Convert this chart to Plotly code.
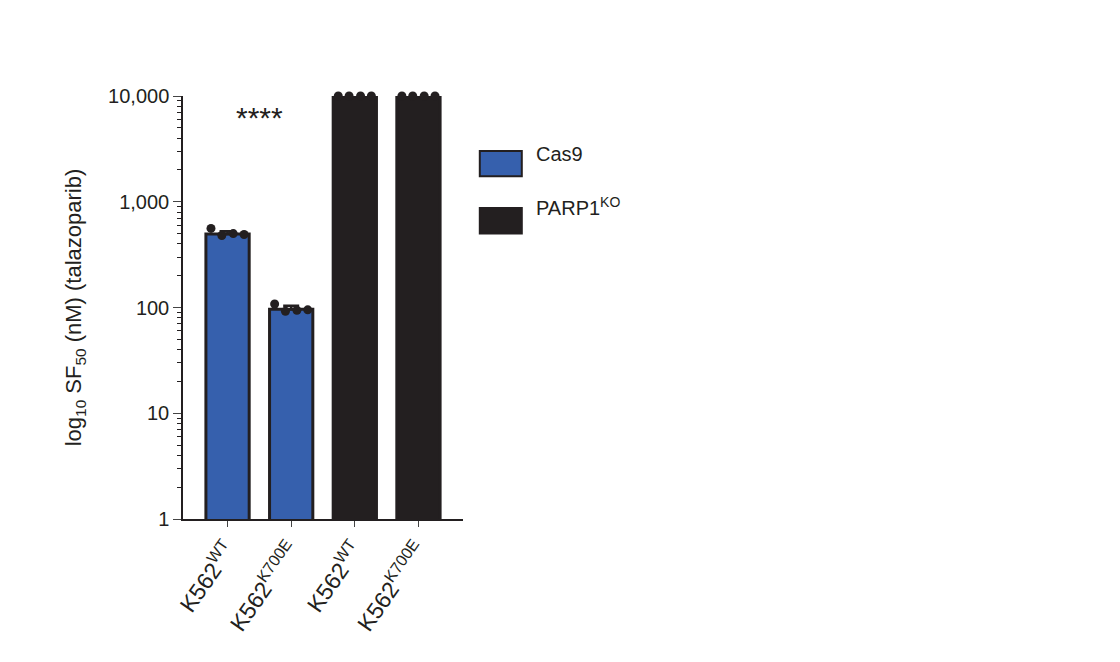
import plotly.graph_objects as go

categories = ["K562<sup>WT</sup>", "K562<sup>K700E</sup>", "K562<sup>WT</sup>", "K562<sup>K700E</sup>"]
bar_values = [495, 96, 10000, 10000]
bar_errors = [30, 8, 0, 0]
replicates = [[560, 480, 500, 490], [108, 92, 94, 95], [10000]*4, [10000]*4]
colors = ["#3660ad", "#3660ad", "#231f20", "#231f20"]
ytick_vals = [1, 10, 100, 1000, 10000]
ytick_text = ["1", "10", "100", "1,000", "10,000"]
legend_names = ["Cas9", "PARP1<sup>KO</sup>"]
legend_colors = ["#3660ad", "#231f20"]

xs = list(range(len(categories)))
fig = go.Figure()
fig.add_bar(x=xs, y=bar_values, marker=dict(color=colors, line=dict(color="#231f20", width=3)),
            width=0.68, error_y=dict(type="data", array=bar_errors, symmetric=False,
            arrayminus=[0]*4, color="#231f20", thickness=2.5, width=8), showlegend=False,
            cliponaxis=False)
offs = [-0.26, -0.09, 0.09, 0.26]
for i, reps in enumerate(replicates):
    fig.add_scatter(x=[i + o for o in offs], y=reps, mode="markers", cliponaxis=False,
                    marker=dict(color="#231f20", size=9), showlegend=False)

fig.add_annotation(x=0.5, y=3.8, xref="x", yref="y", text="****", showarrow=False,
                   font=dict(size=30, color="#231f20"))

for k, (n, c) in enumerate(zip(legend_names, legend_colors)):
    y0 = 0.81 - k * 0.135
    fig.add_shape(type="rect", xref="paper", yref="paper", x0=1.06, x1=1.21, y0=y0, y1=y0 + 0.06,
                  fillcolor=c, line=dict(color="#231f20", width=2))
    fig.add_annotation(xref="paper", yref="paper", x=1.255, y=y0 + 0.03, text=n, showarrow=False,
                       xanchor="left", yanchor="middle", yshift=10 if k == 0 else 14,
                       font=dict(size=20, color="#231f20"))

fig.update_layout(
    width=1120, height=662, plot_bgcolor="white", paper_bgcolor="white",
    margin=dict(l=175, r=665, t=88, b=151, autoexpand=False),
    font=dict(family="Liberation Sans, Arial", size=20, color="#231f20"),
    bargap=0.3,
)
fig.update_xaxes(tickvals=xs, ticktext=categories, tickangle=-55, range=[-0.7, 3.7],
                 showline=True, linecolor="#231f20", linewidth=1.5, ticks="outside",
                 ticklen=6, tickfont=dict(size=23), automargin=False)
fig.update_yaxes(type="log", range=[0, 4], tickvals=ytick_vals, ticktext=ytick_text,
                 showline=True, linecolor="#231f20", linewidth=1.5, ticks="outside", ticklen=8,
                 showgrid=False, automargin=False,
                 minor=dict(ticks="outside", ticklen=4, tickcolor="#231f20", showgrid=False,
                            tickvals=[m * 10**d for d in range(4) for m in range(2, 10)]),
                 title=dict(text="log<sub>10</sub> SF<sub>50</sub> (nM) (talazoparib)", font=dict(size=22), standoff=20))
fig.write_html("out.html")
